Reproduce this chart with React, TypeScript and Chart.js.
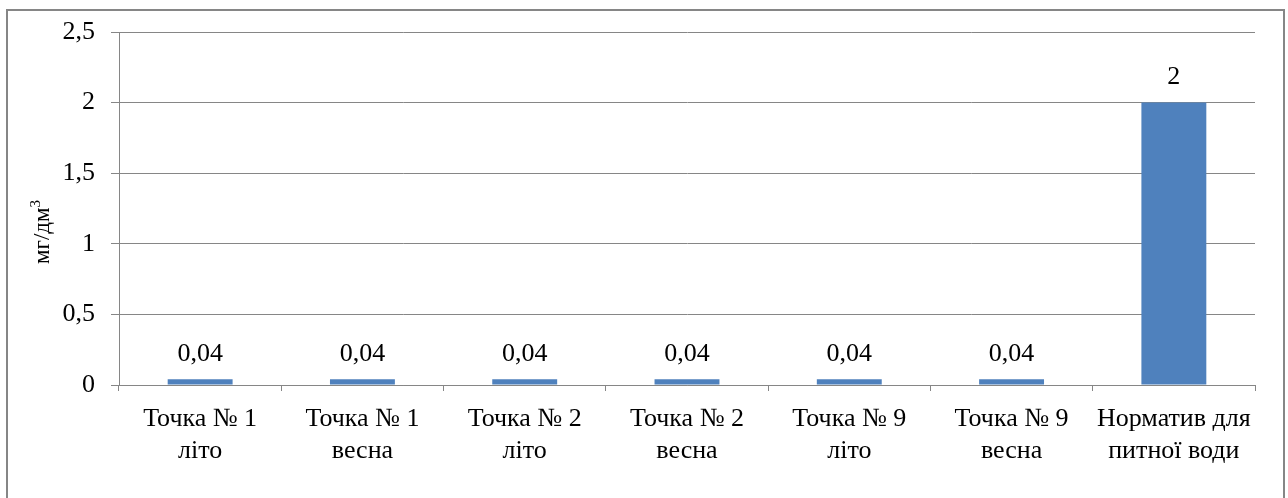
import React, { useEffect, useRef } from "react";
import { Chart, registerables } from "chart.js";

Chart.register(...registerables);

const categories: string[][] = [
  ["Точка № 1", "літо"],
  ["Точка № 1", "весна"],
  ["Точка № 2", "літо"],
  ["Точка № 2", "весна"],
  ["Точка № 9", "літо"],
  ["Точка № 9", "весна"],
  ["Норматив для", "питної води"],
];
const values: number[] = [0.04, 0.04, 0.04, 0.04, 0.04, 0.04, 2];
const yTicks: number[] = [0, 0.5, 1, 1.5, 2, 2.5];
const yTitleMain = "мг/дм";
const yTitleSup = "3";

const FONT = "'Liberation Serif', 'Times New Roman', serif";
const GRID = "#868686";
const fmt = (v: number) => String(v).replace(".", ",");

const extras = {
  id: "extras",
  afterDraw(chart: any) {
    const ctx = chart.ctx as CanvasRenderingContext2D;
    ctx.save();
    // outer frame
    ctx.strokeStyle = GRID;
    ctx.lineWidth = 2;
    ctx.strokeRect(7, 10, 1277, 520);
    // data labels
    const meta = chart.getDatasetMeta(0);
    ctx.fillStyle = "#000";
    ctx.font = `26px ${FONT}`;
    ctx.textAlign = "center";
    ctx.textBaseline = "middle";
    meta.data.forEach((bar: any, i: number) => {
      ctx.fillText(fmt(values[i]), bar.x, bar.y - 25);
    });
    // y title
    ctx.translate(42, 232);
    ctx.rotate(-Math.PI / 2);
    ctx.font = `23px ${FONT}`;
    const wMain = ctx.measureText(yTitleMain).width;
    ctx.font = `15px ${FONT}`;
    const wSup = ctx.measureText(yTitleSup).width;
    const start = -(wMain + wSup) / 2;
    ctx.textAlign = "left";
    ctx.textBaseline = "alphabetic";
    ctx.font = `23px ${FONT}`;
    ctx.fillText(yTitleMain, start, 7);
    ctx.font = `15px ${FONT}`;
    ctx.fillText(yTitleSup, start + wMain, -2);
    ctx.restore();
  },
};

export default function App() {
  const ref = useRef<HTMLCanvasElement>(null);
  useEffect(() => {
    document.body.style.margin = "0";
    const chart = new Chart(ref.current!, {
      type: "bar",
      data: {
        labels: categories,
        datasets: [
          {
            data: values,
            backgroundColor: "#4F81BD",
            barPercentage: 0.4,
            categoryPercentage: 1,
          },
        ],
      },
      options: {
        animation: false,
        responsive: false,
        layout: { padding: { left: 20, top: 32, right: 33, bottom: 0 } },
        plugins: { legend: { display: false }, tooltip: { enabled: false } },
        scales: {
          x: {
            grid: {
              offset: true,
              drawOnChartArea: false,
              drawTicks: true,
              tickLength: 6,
              color: GRID,
              lineWidth: 1,
            },
            border: { color: GRID, width: 1 },
            ticks: {
              color: "#000",
              font: { family: FONT, size: 26, lineHeight: 1.2 },
              padding: 13,
              maxRotation: 0,
              autoSkip: false,
            },
            afterFit: (s: any) => {
              s.height = 498 - 385;
            },
          },
          y: {
            min: 0,
            max: 2.5,
            afterBuildTicks: (s: any) => {
              s.ticks = yTicks.map((v) => ({ value: v }));
            },
            grid: { color: GRID, lineWidth: 1, tickLength: 8 },
            border: { color: GRID, width: 1 },
            ticks: {
              color: "#000",
              font: { family: FONT, size: 26 },
              padding: 16,
              callback: (v: any) => fmt(Number(v)),
            },
            afterFit: (s: any) => {
              s.width = 119 - 20;
            },
          },
        },
      },
      plugins: [extras],
    });
    return () => chart.destroy();
  }, []);
  return <canvas ref={ref} width={1288} height={498} style={{ display: "block" }} />;
}
